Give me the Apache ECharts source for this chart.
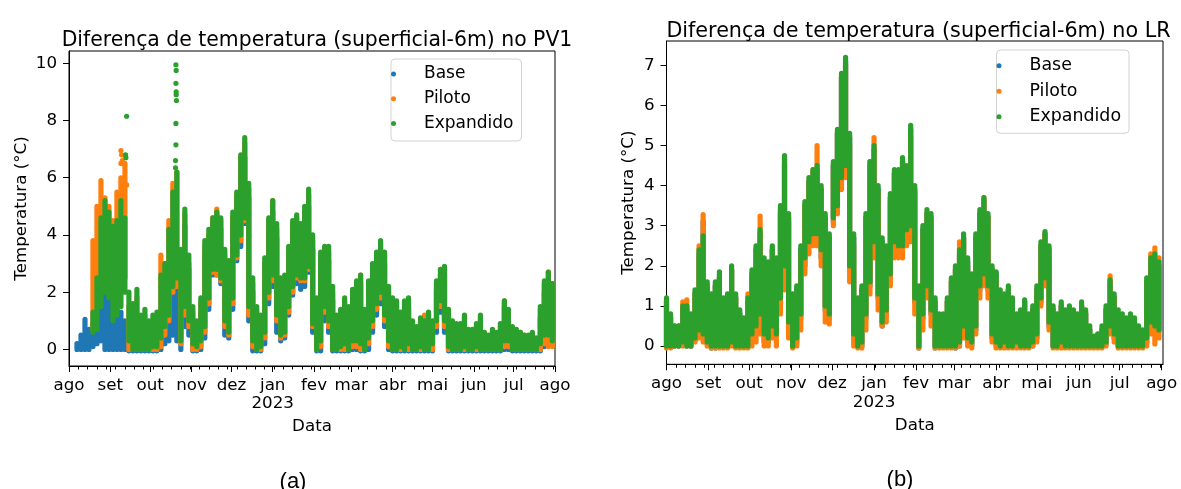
<!DOCTYPE html>
<html><head><meta charset="utf-8">
<script src="https://cdn.jsdelivr.net/npm/echarts@6/dist/echarts.min.js"></script>
<style>html,body{margin:0;padding:0;background:#fff}#c{width:1181px;height:489px}</style>
</head><body><div id="c"></div>
<script>
// ---------- tick labels ----------
const monthLabels = ['ago','set','out','nov','dez','jan','fev','mar','abr','mai','jun','jul','ago'];
const monthDays = [0,31,61,92,122,153,184,212,243,273,304,334,365]; // days since 1 Aug 2022
const yearLabel = '2023';
const weekDays = [0,7,14,21,28,35,42,49,56,63,70,77,84,91,98,105,112,119,126,133,140,147,154,161,168,175,182,189,196,203,210,217,224,231,238,245,252,259,266,273,280,287,294,301,308,315,322,329,336,343,350,357,364];
const pv1Ticks = [0,2,4,6,8,10];
const lrTicks = [0,1,2,3,4,5,6,7];
const seriesNames = ['Base','Piloto','Expandido'];

// ---------- sample days (each sample = daily spread low..high) ----------
const sampleDays = [0,3,6,9,12,15,18,21,24,27,30,33,36,39,42,45,48,51,54,57,60,63,66,69,72,75,78,81,84,87,90,93,96,99,102,105,108,111,114,117,120,123,126,129,132,135,138,141,144,147,150,153,156,159,162,165,168,171,174,177,180,183,186,189,192,195,198,201,204,207,210,213,216,219,222,225,228,231,234,237,240,243,246,249,252,255,258,261,264,267,270,273,276,279,282,285,288,291,294,297,300,303,306,309,312,315,318,321,324,327,330,333,336,339,342,345,348,351,354,357,360,363];

// ---------- PV1 ----------
const pv1BaseLo = [null,null,0.0,0.0,0.0,0.0,0.1,0.2,0.3,0.0,
 0.0,0.0,0.0,0.0,0.0,-0.05,-0.05,-0.05,-0.05,-0.05,
 -0.05,-0.05,-0.05,0.0,0.2,0.3,0.5,0.3,0.0,0.8,
 0.5,-0.05,-0.05,0.0,0.4,1.4,2.6,2.6,2.3,0.5,
 0.4,1.4,3.1,3.6,4.4,1.0,-0.05,-0.05,-0.05,0.2,
 1.6,2.2,0.6,0.3,0.4,1.2,1.9,2.3,2.1,2.2,
 2.7,0.6,-0.05,-0.05,1.0,0.6,-0.05,-0.05,-0.05,-0.05,
 -0.05,0.0,0.0,-0.05,-0.05,0.0,0.6,1.2,1.6,0.8,
 0.0,-0.05,-0.05,-0.05,-0.05,-0.05,-0.05,-0.05,-0.05,-0.05,
 -0.05,-0.05,0.6,1.3,0.6,-0.05,-0.05,-0.05,-0.05,-0.05,
 -0.05,-0.05,-0.05,-0.05,-0.05,-0.05,-0.05,-0.05,-0.05,0.0,
 0.0,-0.05,-0.05,-0.05,-0.05,-0.05,-0.05,-0.05,-0.05,0.1,
 0.2,0.3];
const pv1BaseHi = [null,null,0.2,0.5,1.05,0.7,0.9,1.0,1.7,2.2,
 2.3,1.7,1.5,1.3,1.0,0.8,0.8,1.0,0.6,0.7,
 0.5,0.8,1.2,1.0,1.5,2.2,2.6,2.6,2.0,4.3,
 2.8,1.0,0.6,1.3,3.3,3.7,4.4,4.7,4.2,3.0,
 2.7,4.3,5.0,6.3,6.7,5.3,2.0,1.1,0.8,2.7,
 4.2,4.8,3.9,2.0,2.1,3.1,4.1,4.4,4.1,4.6,
 5.0,3.5,1.3,2.9,3.2,3.1,1.7,0.8,1.0,1.4,
 1.1,1.8,2.0,2.3,1.0,2.0,2.6,3.0,3.4,3.0,
 1.7,1.3,1.2,1.0,1.4,1.4,0.7,0.5,0.8,0.8,
 1.0,0.7,2.1,2.6,2.6,1.1,0.6,0.6,0.6,0.9,
 0.4,0.4,0.6,0.9,0.3,0.3,0.4,0.3,0.6,1.5,
 1.1,0.5,0.4,0.4,0.3,0.3,0.3,0.2,1.1,2.0,
 2.4,2.0];
const pv1PilLo = [null,null,null,null,null,null,0.7,2.5,2.8,2.3,
 2.2,2.5,2.8,3.0,2.5,0.0,0.0,0.0,0.0,0.0,
 0.0,0.0,0.0,0.1,0.5,1.0,2.0,2.2,0.2,1.2,
 0.8,0.0,0.0,0.1,0.6,1.6,2.7,2.6,2.4,0.8,
 0.5,1.6,3.2,3.8,4.5,1.2,0.1,0.0,0.0,0.4,
 1.8,2.4,1.0,0.4,0.5,1.3,2.0,2.5,2.4,2.4,
 2.8,0.8,0.0,0.1,1.3,0.8,0.0,0.0,0.0,0.0,
 0.0,0.1,0.1,0.0,0.0,0.2,0.8,1.4,1.8,1.0,
 0.1,0.0,0.0,0.0,0.0,0.0,0.0,0.0,0.0,0.0,
 0.0,0.0,0.8,1.5,0.8,0.0,0.0,0.0,0.0,0.0,
 0.0,0.0,0.0,0.0,0.0,0.0,0.0,0.0,0.0,0.1,
 0.1,0.0,0.0,0.0,0.0,0.0,0.0,0.0,0.0,0.2,
 0.1,0.1];
const pv1PilHi = [null,null,null,null,null,null,3.8,5.0,5.9,5.3,
 5.0,4.5,5.5,6.0,6.5,1.5,1.4,1.8,1.0,1.2,
 0.8,1.0,1.2,3.3,3.0,4.5,5.8,6.2,3.2,4.7,
 3.0,1.3,0.8,1.6,3.6,4.0,4.6,4.9,4.5,3.3,
 3.0,4.6,5.4,6.7,7.2,5.6,2.3,1.3,1.0,3.0,
 4.5,5.2,4.2,2.3,2.4,3.4,4.4,4.6,4.3,4.8,
 5.4,3.8,1.6,3.2,3.5,3.4,2.0,1.0,1.2,1.7,
 1.3,2.0,2.3,2.6,1.2,2.3,2.9,3.3,3.7,3.3,
 2.0,1.6,1.5,1.2,1.6,1.7,0.9,0.7,1.0,1.2,
 1.2,0.9,2.3,2.8,2.8,1.3,0.8,0.8,0.8,1.1,
 0.6,0.6,0.8,1.1,0.5,0.4,0.6,0.5,0.8,1.7,
 1.3,0.7,0.6,0.6,0.5,0.4,0.5,0.3,1.4,2.3,
 2.7,2.3];
const pv1ExpLo = [null,null,null,null,null,null,0.6,0.7,1.5,2.0,
 1.8,1.0,1.2,1.5,2.0,0.3,0.0,0.0,0.0,0.0,
 0.0,0.1,0.1,0.4,0.8,1.2,2.2,2.5,0.3,1.5,
 1.0,0.2,0.1,0.3,0.8,1.8,2.8,2.8,2.5,1.0,
 0.6,1.8,3.3,4.0,4.6,1.5,0.3,0.0,0.1,0.6,
 2.0,2.6,1.2,0.5,0.6,1.5,2.2,2.6,2.5,2.5,
 2.9,0.9,0.0,0.3,1.5,1.0,0.0,0.0,0.1,0.2,
 0.0,0.3,0.3,0.2,0.0,0.4,1.0,1.6,2.0,1.2,
 0.3,0.0,0.0,0.1,0.0,0.2,0.0,0.0,0.1,0.0,
 0.0,0.2,1.0,1.7,1.0,0.1,0.0,0.0,0.0,0.1,
 0.0,0.0,0.1,0.0,0.0,0.0,0.0,0.0,0.0,0.3,
 0.3,0.0,0.0,0.0,0.0,0.0,0.0,0.0,0.2,0.5,
 0.5,0.3];
const pv1ExpHi = [null,null,null,null,null,null,1.3,2.5,4.6,5.2,
 4.8,4.3,4.5,5.2,4.6,2.0,1.6,2.1,1.2,1.4,
 1.0,1.2,1.3,2.6,3.0,4.2,5.5,6.2,3.5,4.9,
 3.3,1.5,1.0,1.8,3.8,4.2,4.6,4.8,4.6,3.5,
 3.1,4.8,5.5,6.8,7.4,5.8,2.5,1.5,1.2,3.2,
 4.6,5.2,4.4,2.5,2.6,3.6,4.5,4.7,4.4,5.0,
 5.6,4.0,1.8,3.4,3.6,3.6,2.2,1.2,1.4,1.8,
 1.5,2.1,2.4,2.6,1.4,2.4,3.0,3.4,3.8,3.4,
 2.2,1.8,1.7,1.3,1.7,1.8,1.0,0.8,1.1,1.0,
 1.3,1.0,2.4,2.8,2.9,1.4,1.0,0.9,0.9,1.2,
 0.7,0.7,0.9,1.2,0.6,0.5,0.7,0.6,0.9,1.7,
 1.4,0.8,0.7,0.6,0.5,0.5,0.6,0.4,1.5,2.4,
 2.7,2.3];
// isolated readings [day, value]
const pv1PilSpikes = [[39,6.95],[39.5,6.8],[40,6.6],[39,6.5],[43.3,5.75]];
const pv1ExpSpikes = [[80.3,9.95],[80.5,9.75],[80.3,9.3],[80.5,9.0],[80.5,8.9],[80.7,8.7],[80.3,7.9],[80.3,7.15],[80,6.6],[80,6.35],[43.3,8.15],[42.5,6.8],[42.7,6.7]];

// ---------- LR ----------
const lrBaseLo = [0.0,0.0,0.0,0.0,0.05,0.0,0.0,0.15,0.3,0.2,
 0.05,-0.05,-0.05,0.0,0.0,0.0,0.1,0.0,0.0,0.0,
 0.0,0.2,0.4,0.7,0.1,0.1,0.4,0.2,1.1,1.8,
 0.5,0.0,0.1,0.7,2.0,2.5,2.6,2.6,2.2,0.9,
 0.7,3.1,3.4,4.1,4.4,1.9,0.2,0.0,0.0,0.7,
 1.5,2.5,1.2,0.5,0.8,1.7,2.5,2.4,2.4,2.8,
 2.9,1.1,-0.05,0.7,1.4,0.8,-0.05,0.0,0.0,0.0,
 0.0,-0.05,0.0,0.4,0.1,0.0,0.4,1.4,1.7,1.4,
 0.2,0.0,0.0,0.0,0.0,0.0,0.0,0.0,0.0,0.0,
 0.0,0.2,1.1,1.6,0.5,0.0,0.0,0.0,0.0,0.0,
 0.0,0.0,0.0,0.0,0.0,0.0,0.0,0.0,0.05,0.4,
 0.2,0.0,0.0,0.0,0.0,0.0,0.0,0.0,0.1,0.4,
 0.4,0.4];
const lrBaseHi = [1.1,0.7,0.4,0.4,0.9,0.9,0.7,1.3,2.3,3.1,
 1.5,1.2,1.5,1.7,1.1,1.2,1.9,1.2,0.8,0.6,
 1.1,1.8,2.4,2.8,2.1,2.0,2.4,2.1,3.4,4.6,
 3.2,1.2,1.4,2.4,3.5,4.1,4.3,4.4,3.9,3.2,
 2.7,4.5,5.3,6.7,7.1,5.2,2.7,1.1,1.4,3.2,
 4.5,4.9,3.9,2.6,2.4,3.7,4.3,4.3,4.6,4.4,
 5.4,3.9,1.4,2.9,3.3,3.2,1.1,0.7,0.7,1.1,
 1.6,1.9,2.3,2.7,2.1,1.7,2.7,3.3,3.6,3.2,
 1.9,1.8,1.3,1.2,1.4,1.1,0.7,0.8,1.1,0.7,
 0.9,1.4,2.5,2.8,2.4,0.9,0.7,1.0,0.8,0.9,
 0.8,0.7,1.0,0.8,0.4,0.2,0.3,0.4,0.9,1.6,
 1.2,0.8,0.7,0.6,0.7,0.6,0.4,0.3,1.6,2.1,
 2.2,2.0];
const lrPilLo = [-0.05,-0.05,0.0,0.0,0.0,0.0,0.0,0.1,0.2,0.1,
 0.0,-0.05,-0.05,-0.05,-0.05,-0.05,0.0,-0.05,-0.05,-0.05,
 -0.05,0.0,0.1,0.3,0.0,0.0,0.2,0.0,0.8,1.4,
 0.2,-0.05,0.0,0.4,1.8,2.3,2.5,2.5,2.0,0.6,
 0.55,3.0,3.3,3.9,4.2,1.6,0.0,-0.05,-0.05,0.4,
 1.3,2.2,0.9,0.5,0.6,1.5,2.2,2.2,2.2,2.5,
 2.6,0.8,-0.05,0.4,1.2,0.5,-0.05,-0.05,-0.05,-0.05,
 -0.05,-0.05,0.0,0.2,0.0,-0.05,0.3,1.2,1.5,1.2,
 0.1,-0.05,-0.05,-0.05,-0.05,-0.05,-0.05,-0.05,-0.05,-0.05,
 0.0,0.1,1.0,1.5,0.4,-0.05,-0.05,-0.05,-0.05,-0.05,
 -0.05,-0.05,-0.05,-0.05,-0.05,-0.05,-0.05,-0.05,0.0,0.3,
 0.1,-0.05,-0.05,-0.05,-0.05,-0.05,-0.05,-0.05,0.0,0.3,
 0.05,0.2];
const lrPilHi = [1.1,0.7,0.5,0.5,1.1,1.15,0.7,1.3,2.5,3.28,
 1.5,1.2,1.5,1.7,1.1,1.2,1.9,1.2,0.8,0.6,
 1.3,1.8,2.4,3.24,2.1,2.0,2.4,2.0,3.3,4.5,
 3.1,1.1,1.3,2.3,3.5,4.1,4.4,5.0,3.8,3.1,
 2.6,4.5,5.3,6.7,7.0,5.0,2.5,1.0,1.3,3.0,
 4.6,5.2,3.8,2.5,2.3,3.6,4.3,4.3,4.6,4.4,
 5.2,3.8,1.3,2.8,3.3,3.1,1.0,0.7,0.7,1.1,
 1.6,1.9,2.6,2.7,2.0,1.7,2.6,3.3,3.7,3.2,
 1.9,1.7,1.3,1.2,1.4,1.1,0.7,0.8,1.1,0.7,
 0.9,1.4,2.5,2.8,2.4,0.9,0.7,1.0,0.8,0.9,
 0.8,0.7,1.0,0.8,0.4,0.2,0.3,0.4,0.9,1.75,
 1.2,0.8,0.7,0.6,0.7,0.6,0.4,0.3,1.6,2.3,
 2.45,2.2];
const lrExpLo = [0.0,0.0,0.0,0.0,0.1,0.0,0.0,0.2,0.4,0.3,
 0.1,0.0,0.0,0.0,0.0,0.0,0.1,0.0,0.0,0.0,
 0.0,0.3,0.5,0.8,0.3,0.2,0.5,0.3,1.2,2.0,
 0.6,0.0,0.2,0.8,2.2,2.6,2.8,2.8,2.4,1.0,
 0.8,3.2,3.5,4.2,4.5,2.0,0.3,0.0,0.1,0.8,
 1.6,2.6,1.3,0.6,0.9,1.8,2.6,2.5,2.5,2.9,
 3.0,1.2,0.0,0.8,1.5,0.9,0.0,0.0,0.0,0.0,
 0.0,0.0,0.1,0.5,0.2,0.1,0.5,1.5,1.8,1.5,
 0.3,0.1,0.0,0.1,0.0,0.0,0.1,0.0,0.0,0.0,
 0.1,0.3,1.2,1.7,0.6,0.0,0.0,0.1,0.0,0.0,
 0.0,0.0,0.0,0.0,0.0,0.0,0.0,0.0,0.1,0.5,
 0.3,0.0,0.0,0.0,0.0,0.0,0.0,0.0,0.2,0.6,
 0.5,0.4];
const lrExpHi = [1.2,0.8,0.5,0.5,1.0,1.0,0.8,1.4,2.4,2.75,
 1.6,1.3,1.6,1.85,1.2,1.3,2.0,1.3,0.9,0.7,
 1.2,1.9,2.5,2.9,2.2,2.1,2.5,2.2,3.5,4.75,
 3.3,1.3,1.5,2.5,3.6,4.2,4.4,4.5,4.0,3.3,
 2.8,4.6,5.4,6.8,7.2,5.3,2.8,1.2,1.5,3.3,
 4.6,5.0,4.0,2.7,2.5,3.8,4.4,4.4,4.7,4.5,
 5.5,4.0,1.5,3.0,3.4,3.3,1.2,0.8,0.8,1.2,
 1.7,2.0,2.4,2.8,2.2,1.8,2.8,3.4,3.7,3.3,
 2.0,1.85,1.4,1.3,1.5,1.2,0.8,0.9,1.15,0.8,
 1.0,1.5,2.6,2.85,2.5,1.0,0.8,1.1,0.9,1.0,
 0.9,0.8,1.1,0.9,0.5,0.25,0.3,0.5,1.0,1.65,
 1.3,0.9,0.8,0.7,0.8,0.7,0.5,0.4,1.7,2.2,
 2.3,2.1];

// ---------- styling ----------
const F = 'DejaVu Sans';
const COLORS = ['#1f77b4','#ff7f0e','#2ca02c'];
const FS = 16.7;

function capsule(params, api) {
  const d = api.value(0), lo = api.value(1), hi = api.value(2);
  const a = api.coord([d, hi]), b = api.coord([d, lo]);
  const r = 2.6;
  return {type:'rect', shape:{x:a[0]-r, y:a[1]-r, width:2*r, height:(b[1]-a[1])+2*r, r:r},
    style:{fill: api.visual('color')}};
}
function band(name, color, axis, lo, hi) {
  return {type:'custom', name, xAxisIndex:axis*2, yAxisIndex:axis, itemStyle:{color}, renderItem:capsule,
    encode:{x:0, y:[1,2]}, silent:true,
    data: sampleDays.map((d,i)=>[d, lo[i], hi[i]]).filter(r => r[1]!=null && r[2]!=null)};
}
function dots(name, color, axis, pts) {
  return {type:'scatter', name, xAxisIndex:axis*2, yAxisIndex:axis, symbol:'circle', symbolSize:5.2,
    itemStyle:{color, opacity:1}, silent:true, data: pts};
}
function monthFmt(v) {
  const k = monthDays.indexOf(v);
  let s = k >= 0 ? monthLabels[k] : '';
  if (v === 153) s += '\n' + yearLabel;
  return s;
}
function xAxes(gi, max, gap) {
  return [{
    type:'value', gridIndex:gi, min:0, max, position:'bottom',
    axisLine:{show:true, onZero:false, lineStyle:{color:'#000', width:1}},
    axisTick:{show:true, length:6, customValues:monthDays, lineStyle:{color:'#000', width:1}},
    axisLabel:{show:true, customValues:monthDays, margin:10, fontFamily:F, fontSize:FS, color:'#000', lineHeight:18.6, formatter:monthFmt},
    splitLine:{show:false},
    name:'Data', nameLocation:'middle', nameGap:gap, nameTextStyle:{fontFamily:F, fontSize:FS, color:'#000'}
  },{
    type:'value', gridIndex:gi, min:0, max, position:'bottom',
    axisLine:{show:false, onZero:false},
    axisTick:{show:true, length:3.5, customValues:weekDays, lineStyle:{color:'#000', width:1}},
    axisLabel:{show:false}, splitLine:{show:false}
  }];
}
function yAxis(gi, min, max, ticks, gap) {
  return {
    type:'value', gridIndex:gi, min, max,
    axisLine:{show:true, onZero:false, lineStyle:{color:'#000', width:1}},
    axisTick:{show:true, length:6, customValues:ticks, lineStyle:{color:'#000', width:1}},
    axisLabel:{show:true, customValues:ticks, margin:12, fontFamily:F, fontSize:FS, color:'#000'},
    splitLine:{show:false},
    name:'Temperatura (°C)', nameLocation:'middle', nameGap:gap, nameRotate:90,
    nameTextStyle:{fontFamily:F, fontSize:FS, color:'#000'}
  };
}
function legend(left, top, fs, gap, pad) {
  return {orient:'vertical', left, top, itemWidth:51, itemHeight:5, itemGap:gap, icon:'circle',
    padding:pad, borderColor:'#d3d3d3', borderWidth:1, borderRadius:4, backgroundColor:'rgba(255,255,255,0.85)',
    textStyle:{fontFamily:F, fontSize:fs, color:'#000', lineHeight:20}, selectedMode:false,
    data: seriesNames.map(n => ({name:n, icon:'circle'}))};
}

const chart = echarts.init(document.getElementById('c'), null, {renderer:'canvas'});
chart.setOption({
  animation:false,
  backgroundColor:'#fff',
  title:[
    {text:'Diferença de temperatura (superficial-6m) no PV1', left:312, top:23.5, textAlign:'center',
      textStyle:{fontFamily:F, fontSize:20.4, fontWeight:'normal', color:'#000', lineHeight:24}},
    {text:'Diferença de temperatura (superficial-6m) no LR', left:913.5, top:15, textAlign:'center',
      textStyle:{fontFamily:F, fontSize:20.7, fontWeight:'normal', color:'#000', lineHeight:24}},
    {text:'(a)', left:288, top:464, textAlign:'center',
      textStyle:{fontFamily:'Liberation Sans', fontSize:22, fontWeight:'normal', color:'#000', lineHeight:26}},
    {text:'(b)', left:895, top:462, textAlign:'center',
      textStyle:{fontFamily:'Liberation Sans', fontSize:22, fontWeight:'normal', color:'#000', lineHeight:26}}
  ],
  legend:[legend(391, 59, 17.0, 4.7, [5,8,7.6,0]), legend(996.5, 50, 17.4, 5.5, [5.7,8,6.6,0])],
  grid:[
    {left:69, top:51, width:486, height:315, show:true, borderColor:'#000', borderWidth:1, backgroundColor:'transparent'},
    {left:666.5, top:41, width:496.5, height:323.3, show:true, borderColor:'#000', borderWidth:1, backgroundColor:'transparent'}
  ],
  xAxis:[...xAxes(0, 365, 51.5), ...xAxes(1, 366, 53)],
  yAxis:[yAxis(0, -0.58, 10.43, pv1Ticks, 39), yAxis(1, -0.456, 7.606, lrTicks, 29.5)],
  series:[
    band('Base', COLORS[0], 0, pv1BaseLo, pv1BaseHi),
    band('Piloto', COLORS[1], 0, pv1PilLo, pv1PilHi),
    dots('Piloto', COLORS[1], 0, pv1PilSpikes),
    band('Expandido', COLORS[2], 0, pv1ExpLo, pv1ExpHi),
    dots('Expandido', COLORS[2], 0, pv1ExpSpikes),
    band('Base', COLORS[0], 1, lrBaseLo, lrBaseHi),
    band('Piloto', COLORS[1], 1, lrPilLo, lrPilHi),
    band('Expandido', COLORS[2], 1, lrExpLo, lrExpHi)
  ]
});
</script>
</body></html>
